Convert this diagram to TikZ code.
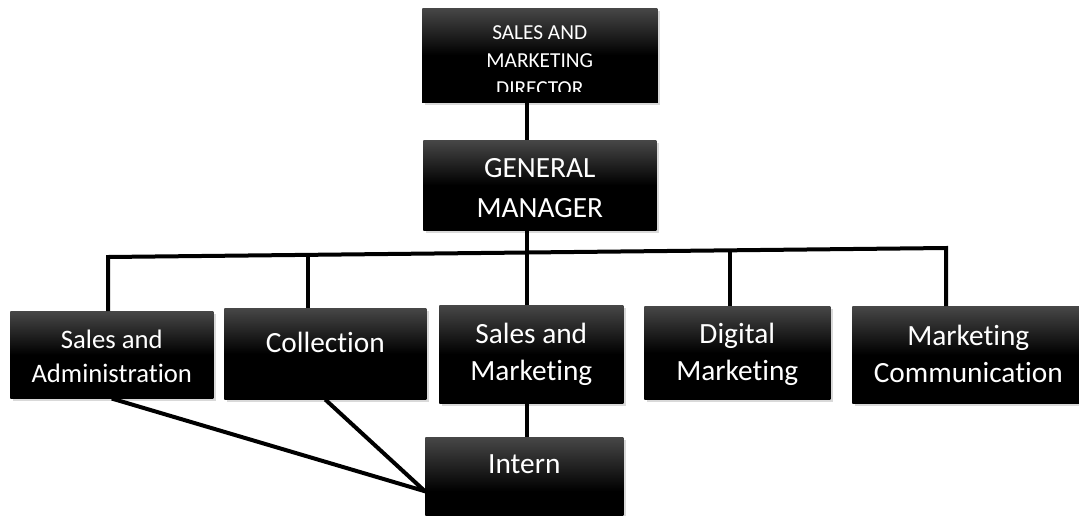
\documentclass[tikz,border=0pt]{standalone}
\usepackage{fontspec}
\setmainfont{Carlito}[Ligatures=NoCommon]
\usetikzlibrary{shadows}
\definecolor{boxgray}{HTML}{474747}
% fixed size box, text starts at the top: width, height, first baseline, text
\newcommand{\boxtext}[4]{\parbox[t][#2][t]{#1}{\centering\rule{0pt}{#3}#4}}

\begin{document}
\begin{tikzpicture}[x=0.75pt,y=-0.75pt,
		unit/.style={anchor=north west,inner sep=0pt,text=white,top color=boxgray,bottom color=black,middle color=black,drop shadow={shadow xshift=2pt,shadow yshift=-2pt,opacity=0.3}},
		dept/.style={unit,font=\fontsize{22}{27.75}\selectfont},
		link/.style={line width=3pt}]
	\useasboundingbox (0,0) rectangle (1079,515);
	\node[unit,font=\fontsize{16}{21}\selectfont] (dir) at (422,8) {\boxtext{176.25pt}{70.5pt}{23.25pt}{SALES AND\\MARKETING\\DIRECTOR}};
	\fill[black] ([yshift=8.25pt]dir.south west) rectangle (dir.south east);
	\node[unit,font=\fontsize{22}{30}\selectfont] (gm) at (423,140) {\boxtext{174.75pt}{67.5pt}{27.75pt}{GENERAL\\MANAGER}};
	\node[dept,font=\fontsize{20}{25.5}\selectfont] (sa) at (10,311) {\boxtext{152.25pt}{65.25pt}{27.75pt}{Sales and\\Administration}};
	\node[dept] (coll) at (224,308) {\boxtext{151.5pt}{68.25pt}{33pt}{Collection}};
	\node[dept] (sm) at (439,305) {\boxtext{138pt}{73.5pt}{28.5pt}{Sales and\\Marketing}};
	\node[dept] (dig) at (644,306) {\boxtext{139.5pt}{69.75pt}{27.75pt}{Digital\\Marketing}};
	\node[dept] (mc) at (852,306) {\boxtext{174pt}{72.75pt}{29.25pt}{Marketing\\Communication}};
	\node[dept] (intern) at (425,437) {\boxtext{148.5pt}{81pt}{27pt}{Intern}};
	% bus under the general manager
	\coordinate (b1) at (108,257);
	\coordinate (b2) at (308,254.9);
	\coordinate (b3) at (527,252.5);
	\coordinate (b4) at (730,250.3);
	\coordinate (b5) at (946,248);
	\draw[link] (dir.south -| b3) -- (gm.north -| b3);
	\draw[link] (gm.south -| b3) -- (b3);
	\draw[link] (sa.north -| b1) -- (b1) -- (b5) -- (mc.north -| b5);
	\draw[link] (b2) -- (coll.north -| b2);
	\draw[link] (b3) -- (sm.north -| b3);
	\draw[link] (b4) -- (dig.north -| b4);
	\draw[link] (sm.south -| b3) -- (intern.north -| b3);
	\draw[link] (sa.south) -- (intern.west) -- (coll.south);
\end{tikzpicture}
\end{document}
